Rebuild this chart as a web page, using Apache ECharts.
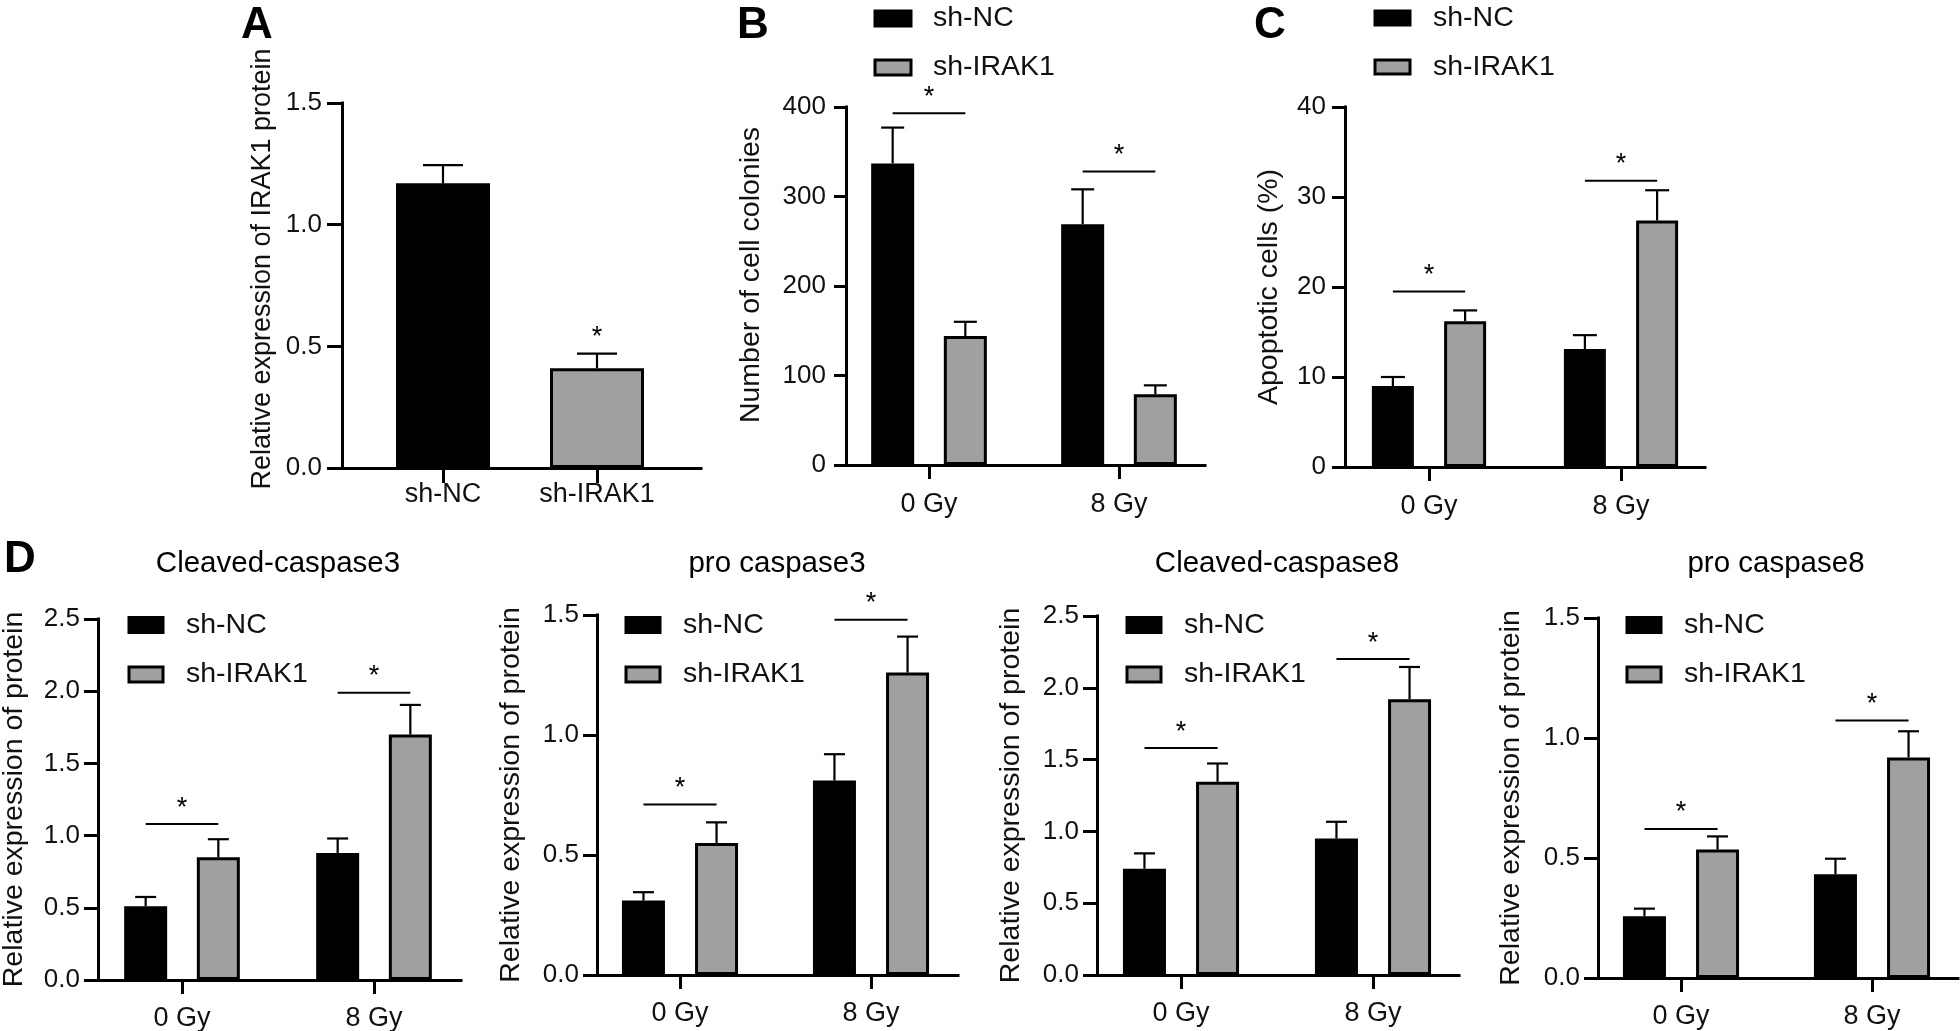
<!DOCTYPE html>
<html>
<head>
<meta charset="utf-8">
<script src="https://cdn.jsdelivr.net/npm/echarts@6/dist/echarts.min.js"></script>
<style>html,body{margin:0;padding:0;background:#fff}#c{width:1960px;height:1031px}</style>
</head>
<body>
<div id="c"></div>
<script>
// ---------------- DATA ----------------
const groupNames = ['sh-NC', 'sh-IRAK1'];
const doseLabels = ['0 Gy', '8 Gy'];

// Panel A
const irak1Mean = [1.17, 0.41];
const irak1Err = [0.075, 0.06];
const irak1Star = ['', '*'];
const yTicksA = [0, 0.5, 1.0, 1.5];

// Panel B
const colonyNC = [337, 269];
const colonyNCErr = [40, 39];
const colonyIRAK1 = [144, 79];
const colonyIRAK1Err = [16, 10];
const colonySig = [393, 328];
const yTicksB = [0, 100, 200, 300, 400];

// Panel C
const apoNC = [9.0, 13.1];
const apoNCErr = [1.0, 1.55];
const apoIRAK1 = [16.2, 27.4];
const apoIRAK1Err = [1.2, 3.35];
const apoSig = [19.5, 31.8];
const yTicksC = [0, 10, 20, 30, 40];

// Panel D
const panelTitlesD = ['Cleaved-caspase3', 'pro caspase3', 'Cleaved-caspase8', 'pro caspase8'];
const cleavedCasp3NC = [0.51, 0.88], cleavedCasp3NCErr = [0.065, 0.10];
const cleavedCasp3IRAK1 = [0.85, 1.70], cleavedCasp3IRAK1Err = [0.125, 0.205];
const cleavedCasp3Sig = [1.08, 1.99];
const proCasp3NC = [0.31, 0.81], proCasp3NCErr = [0.035, 0.11];
const proCasp3IRAK1 = [0.55, 1.26], proCasp3IRAK1Err = [0.086, 0.15];
const proCasp3Sig = [0.71, 1.48];
const cleavedCasp8NC = [0.74, 0.95], cleavedCasp8NCErr = [0.107, 0.117];
const cleavedCasp8IRAK1 = [1.345, 1.92], cleavedCasp8IRAK1Err = [0.128, 0.225];
const cleavedCasp8Sig = [1.58, 2.20];
const proCasp8NC = [0.257, 0.432], proCasp8NCErr = [0.032, 0.065];
const proCasp8IRAK1 = [0.535, 0.919], proCasp8IRAK1Err = [0.055, 0.109];
const proCasp8Sig = [0.621, 1.073];
const yTicksD1 = [0, 0.5, 1.0, 1.5, 2.0, 2.5];
const yTicksD2 = [0, 0.5, 1.0, 1.5];

// ---------------- STYLE / LAYOUT ----------------
const FONT = '"Liberation Sans", Arial, Helvetica, sans-serif';
const INK = '#111';
const GRAY = '#a0a0a0';
const barColors = ['#000', GRAY];
const TICK_FS = 26, XLAB_FS = 27, NAME_FS = 28.5, LEG_FS = 28.5, SUB_FS = 29.5;

const L = {
  A:  {left:342,  right:701,  top:103, bottom:468, t0:443,  t1:597,  barW:94, gap:0.7,  cap:40, xTick:15, yTick:15, xMargin:13, yMargin:20, nameGap:66, namePad:33, nameFs:27},
  B:  {left:846,  right:1205, top:107, bottom:465, t0:929,  t1:1119, barW:43, gap:0.69, cap:23, xTick:14, yTick:12, xMargin:26, yMargin:20, nameGap:80, namePad:22},
  C:  {left:1345, right:1705, top:107, bottom:467, t0:1429, t1:1621, barW:42, gap:0.72, cap:24, xTick:14, yTick:13, xMargin:26, yMargin:19, nameGap:61, namePad:0},
  D1: {left:98,   right:461,  top:619, bottom:980, t0:182,  t1:374,  barW:43, gap:0.69, cap:21, xTick:14, yTick:14, xMargin:25, yMargin:18, nameGap:69, namePad:0},
  D2: {left:597,  right:958,  top:615, bottom:975, t0:680,  t1:871,  barW:43, gap:0.7,  cap:21, xTick:14, yTick:14, xMargin:25, yMargin:18, nameGap:71, namePad:0},
  D3: {left:1097, right:1459, top:616, bottom:975, t0:1181, t1:1373, barW:43, gap:0.7,  cap:21, xTick:14, yTick:14, xMargin:25, yMargin:18, nameGap:71, namePad:0},
  D4: {left:1598, right:1958, top:618, bottom:978, t0:1681, t1:1872, barW:43, gap:0.7,  cap:21, xTick:14, yTick:14, xMargin:25, yMargin:18, nameGap:72, namePad:0}
};

const option = {
  animation: false,
  backgroundColor: '#fff',
  textStyle: {fontFamily: FONT},
  grid: [], xAxis: [], yAxis: [], series: [], legend: [], title: []
};

function errRender(pitch, cap) {
  return function (params, api) {
    const g = api.value(0), s = api.value(1), m = api.value(2), e = api.value(3), n = api.value(4);
    const p0 = api.coord([g, m]);
    const p1 = api.coord([g, m + e]);
    const x = p0[0] + (s - (n - 1) / 2) * pitch;
    const st = {stroke: '#000', lineWidth: 2.2};
    return {type: 'group', children: [
      {type: 'line', shape: {x1: x, y1: p0[1], x2: x, y2: p1[1]}, style: st},
      {type: 'line', shape: {x1: x - cap / 2, y1: p1[1], x2: x + cap / 2, y2: p1[1]}, style: st}
    ]};
  };
}
function starText(x, y) {
  return {type: 'text', x: x, y: y - 10,
    style: {text: '*', fill: '#000', font: '27px ' + FONT, align: 'center', verticalAlign: 'middle'}};
}
function sigRender(pitch) {
  return function (params, api) {
    const p = api.coord([api.value(0), api.value(1)]);
    return {type: 'group', children: [
      {type: 'line', shape: {x1: p[0] - pitch / 2, y1: p[1], x2: p[0] + pitch / 2, y2: p[1]}, style: {stroke: '#000', lineWidth: 2}},
      starText(p[0], p[1] - 6)
    ]};
  };
}

function addPanel(lay, cats, yTicks, yName, decimals, groups, sig) {
  const i = option.grid.length;
  const unit = lay.t1 - lay.t0;
  option.grid.push({left: lay.left, top: lay.top, width: lay.right - lay.left, height: lay.bottom - lay.top,
    containLabel: false, outerBoundsMode: 'none'});
  option.xAxis.push({
    gridIndex: i, type: 'value',
    min: -(lay.t0 - lay.left) / unit, max: 1 + (lay.right - lay.t1) / unit,
    splitLine: {show: false},
    axisLine: {show: true, onZero: false, lineStyle: {color: '#000', width: 3, cap: 'square'}},
    axisTick: {show: true, customValues: [0, 1], length: lay.xTick, lineStyle: {color: '#000', width: 3}},
    axisLabel: {show: true, customValues: [0, 1], formatter: v => cats[Math.round(v)] || '',
      margin: lay.xMargin, color: INK, fontSize: XLAB_FS, fontFamily: FONT}
  });
  option.yAxis.push({
    gridIndex: i, type: 'value',
    min: yTicks[0], max: yTicks[yTicks.length - 1], interval: yTicks[1] - yTicks[0],
    splitLine: {show: false},
    axisLine: {show: true, onZero: false, lineStyle: {color: '#000', width: 3, cap: 'square'}},
    axisTick: {show: true, length: lay.yTick, lineStyle: {color: '#000', width: 3}},
    axisLabel: {formatter: v => Number(v).toFixed(decimals), margin: lay.yMargin, color: INK, fontSize: TICK_FS, fontFamily: FONT},
    name: yName, nameLocation: 'middle', nameGap: lay.nameGap,
    nameTextStyle: {fontSize: lay.nameFs || NAME_FS, color: INK, fontFamily: FONT, padding: lay.namePad ? [0, 0, 0, lay.namePad] : 0}
  });
  const pitch = lay.barW * (1 + lay.gap);
  const errRows = [];
  groups.forEach((gr, s) => {
    option.series.push({
      name: gr.name, type: 'bar', xAxisIndex: i, yAxisIndex: i,
      barWidth: lay.barW, barGap: (lay.gap * 100) + '%',
      data: gr.mean.map((v, g) => gr.perItemColor
        ? {value: [g, v], itemStyle: {color: barColors[g]}}
        : [g, v]),
      itemStyle: {color: gr.color, borderColor: '#000', borderWidth: 3},
      z: 2
    });
    gr.mean.forEach((v, g) => errRows.push([g, s, v, gr.err[g], groups.length]));
  });
  option.series.push({
    type: 'custom', xAxisIndex: i, yAxisIndex: i, clip: false, z: 3,
    renderItem: errRender(pitch, lay.cap),
    encode: {x: 0, y: 2}, data: errRows
  });
  if (sig) {
    option.series.push({
      type: 'custom', xAxisIndex: i, yAxisIndex: i, clip: false, z: 3,
      renderItem: sigRender(pitch),
      encode: {x: 0, y: 1}, data: sig.map((v, g) => [g, v])
    });
  }
  return i;
}

// Panel A
addPanel(L.A, groupNames, yTicksA, 'Relative expression of IRAK1 protein', 1,
  [{name: 'IRAK1 protein', mean: irak1Mean, err: irak1Err, color: '#000', perItemColor: true}], null);
option.series.push({
  type: 'custom', xAxisIndex: 0, yAxisIndex: 0, clip: false, z: 3,
  renderItem: function (params, api) {
    const p = api.coord([api.value(0), api.value(1)]);
    return starText(p[0], p[1] - 6);
  },
  encode: {x: 0, y: 1},
  data: irak1Star.map((s, g) => s ? [g, irak1Mean[g] + irak1Err[g]] : null).filter(Boolean)
});

// Panel B
addPanel(L.B, doseLabels, yTicksB, 'Number of cell colonies', 0, [
  {name: groupNames[0], mean: colonyNC, err: colonyNCErr, color: '#000'},
  {name: groupNames[1], mean: colonyIRAK1, err: colonyIRAK1Err, color: GRAY}], colonySig);

// Panel C
addPanel(L.C, doseLabels, yTicksC, 'Apoptotic cells (%)', 0, [
  {name: groupNames[0], mean: apoNC, err: apoNCErr, color: '#000'},
  {name: groupNames[1], mean: apoIRAK1, err: apoIRAK1Err, color: GRAY}], apoSig);

// Panel D
const dData = [
  [cleavedCasp3NC, cleavedCasp3NCErr, cleavedCasp3IRAK1, cleavedCasp3IRAK1Err, cleavedCasp3Sig, yTicksD1, L.D1],
  [proCasp3NC, proCasp3NCErr, proCasp3IRAK1, proCasp3IRAK1Err, proCasp3Sig, yTicksD2, L.D2],
  [cleavedCasp8NC, cleavedCasp8NCErr, cleavedCasp8IRAK1, cleavedCasp8IRAK1Err, cleavedCasp8Sig, yTicksD1, L.D3],
  [proCasp8NC, proCasp8NCErr, proCasp8IRAK1, proCasp8IRAK1Err, proCasp8Sig, yTicksD2, L.D4]
];
dData.forEach(d => {
  addPanel(d[6], doseLabels, d[5], 'Relative expression of protein', 1, [
    {name: groupNames[0], mean: d[0], err: d[1], color: '#000'},
    {name: groupNames[1], mean: d[2], err: d[3], color: GRAY}], d[4]);
});

// Legends
function addLegend(left, top, w, h, gap, textPad) {
  option.legend.push({
    left: left, top: top, orient: 'vertical', padding: 0, selectedMode: false,
    itemWidth: w, itemHeight: h, itemGap: gap, icon: 'rect',
    textStyle: {fontSize: LEG_FS, lineHeight: 28, color: INK, fontFamily: FONT, padding: [0, 0, 0, textPad]},
    data: [
      {name: groupNames[0], itemStyle: {color: '#000', borderColor: '#000', borderWidth: 3}},
      {name: groupNames[1], itemStyle: {color: GRAY, borderColor: '#000', borderWidth: 3}}
    ]
  });
}
addLegend(873.5, 4, 36, 15, 20, 17);
addLegend(1373.5, 3.5, 35, 14, 20, 18);
addLegend(127.5, 610.5, 34, 15, 20.5, 18);
addLegend(624.5, 610.5, 34, 15, 20.5, 18);
addLegend(1125.5, 610.5, 34, 15, 20.5, 18);
addLegend(1625.5, 610.5, 34, 15, 20.5, 18);

// Titles: panel letters and D subtitles
function addTitle(text, left, top, size, bold, align) {
  option.title.push({text: text, left: left, top: top, padding: 0, textAlign: align || 'left',
    textStyle: {fontSize: size, fontWeight: bold ? 'bold' : 'normal', color: '#000', fontFamily: FONT, lineHeight: size}});
}
addTitle('A', 241, 4, 44, true);
addTitle('B', 737, 4, 44, true);
addTitle('C', 1254, 4, 44, true);
addTitle('D', 4, 538, 44, true);
const dCenters = [278, 777, 1277, 1776];
panelTitlesD.forEach((t, k) => addTitle(t, dCenters[k], 549, SUB_FS, false, 'center'));

const chart = echarts.init(document.getElementById('c'), null, {renderer: 'canvas'});
chart.setOption(option);
</script>
</body>
</html>
